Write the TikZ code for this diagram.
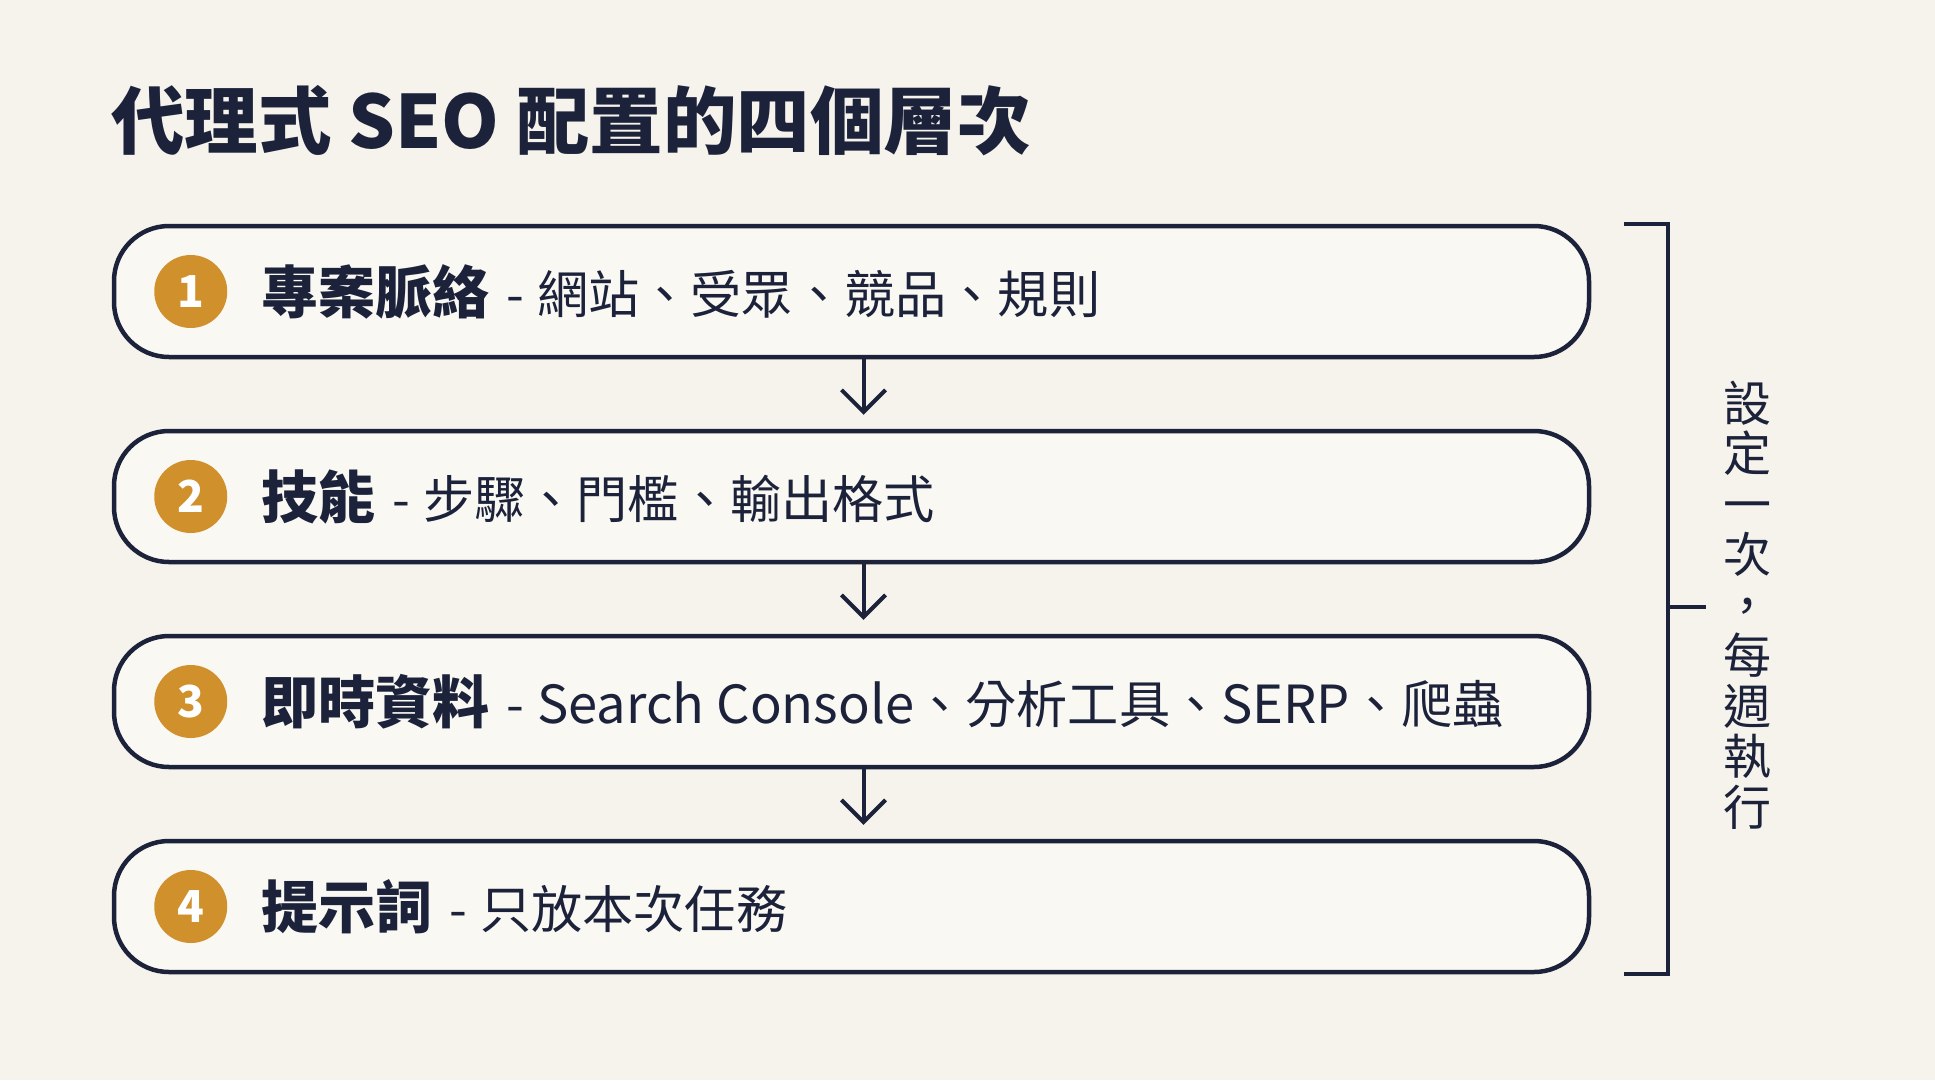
\documentclass[tikz,border=0pt]{standalone}
\usepackage{fontspec}
\setmainfont{Noto Sans CJK TC}
\usetikzlibrary{positioning,arrows.meta}
\definecolor{ink}{RGB}{27,34,58}
\definecolor{gold}{RGB}{208,144,44}
\definecolor{paper}{RGB}{246,243,236}
\definecolor{boxfill}{RGB}{250,248,243}
\newcommand\descfont{\fontsize{51.2}{53}\selectfont\mdseries}
\newcommand\latin[1]{{\fontsize{52.5}{54}\selectfont#1}}
\begin{document}
\begin{tikzpicture}[x=1pt,y=-1pt,
  layer/.style={draw=ink,line width=4.5pt,fill=boxfill,rounded corners=55pt,minimum width=1475pt,minimum height=131pt},
  num/.style={circle,fill=gold,minimum size=73pt,inner sep=0pt,text=white,font=\fontsize{44}{44}\selectfont\bfseries},
  head/.style={anchor=base west,inner sep=0pt,text=ink,font=\fontsize{57}{60}\selectfont\bfseries},
  flow/.style={draw=ink,line width=4pt,-{Straight Barb[length=22pt,width=44pt]},shorten >=14pt},
  brace/.style={draw=ink,line width=4pt}]
  \fill[paper](0,0)rectangle(1935,1080);
  \node[anchor=base west,inner sep=0pt,text=ink,font=\fontsize{73.5}{76}\selectfont\bfseries](title)at(111,148){代理式 SEO 配置的四個層次};
  % four layers
  \foreach \i/\h/\d in {1/專案脈絡/網站、受眾、競品、規則,2/技能/步驟、門檻、輸出格式,3/即時資料/{\latin{Search Console}、分析工具、\latin{SERP}、爬蟲},4/提示詞/只放本次任務}{
    \node[layer](l\i)at(851.5,{291.5+205*(\i-1)}){};
    \node[num](n\i)at([xshift=79pt]l\i.west){\i};
    \node[head](h\i)at([xshift=149.5pt,yshift=-22pt]l\i.west){\h\descfont\hspace{17pt}-\hspace{13pt}\d};
  }
  \foreach \a/\b in {l1/l2,l2/l3,l3/l4}
    \draw[flow]([xshift=12pt]\a.south)--([xshift=12pt]\b.north);
  % bracket on the right
  \coordinate(bt)at([xshift=33pt]l1.north east);
  \coordinate(bb)at([xshift=33pt]l4.south east);
  \coordinate(bm)at(1666,607);
  \draw[brace](bt)-|([xshift=77pt]l4.south east)--(bb);
  \draw[brace](bm)--++(40,0)coordinate(bx);
  \node[text=ink,align=center,font=\fontsize{48}{50.5}\selectfont](note)at(1747,605){設\\定\\一\\次\\，\\每\\週\\執\\行};
\end{tikzpicture}
\end{document}
